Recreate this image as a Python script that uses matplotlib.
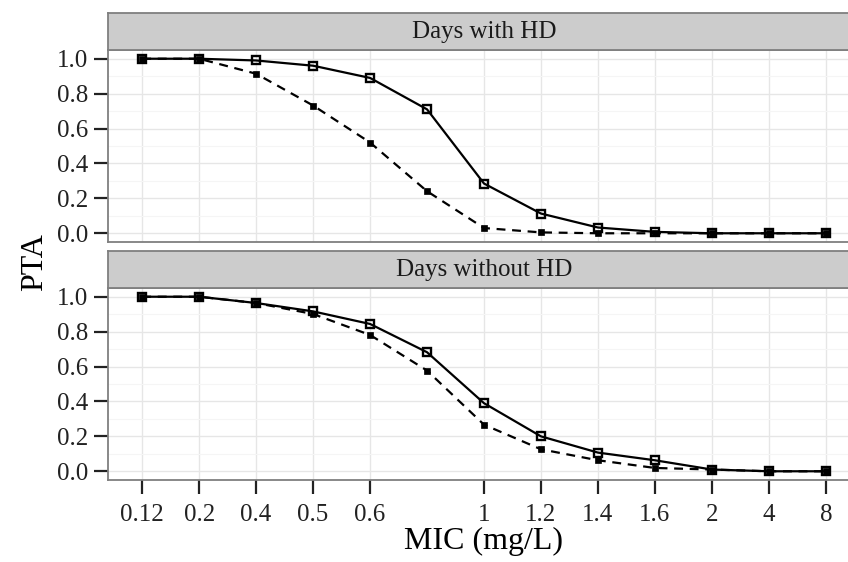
import matplotlib
matplotlib.use("Agg")
import matplotlib.pyplot as plt
from matplotlib.ticker import MultipleLocator

plt.rcParams["font.family"] = ["Liberation Serif", "DejaVu Serif"]

# MIC categories (0.8 is plotted but carries no tick label)
mic_levels = ["0.12", "0.2", "0.4", "0.5", "0.6", "0.8", "1", "1.2", "1.4", "1.6", "2", "4", "8"]
tick_levels = ["0.12", "0.2", "0.4", "0.5", "0.6", "1", "1.2", "1.4", "1.6", "2", "4", "8"]

facets = ["Days with HD", "Days without HD"]

# PTA per facet: solid line / open squares and dashed line / filled squares
pta_solid_hd = [1.0, 1.0, 0.99, 0.96, 0.89, 0.71, 0.285, 0.113, 0.033, 0.008, 0.0, 0.0, 0.0]
pta_dashed_hd = [1.0, 1.0, 0.914, 0.732, 0.52, 0.241, 0.03, 0.005, 0.0, 0.0, 0.0, 0.0, 0.0]
pta_solid_nohd = [1.0, 1.0, 0.964, 0.916, 0.844, 0.682, 0.39, 0.2, 0.107, 0.063, 0.01, 0.0, 0.0]
pta_dashed_nohd = [1.0, 1.0, 0.964, 0.901, 0.781, 0.577, 0.267, 0.126, 0.063, 0.019, 0.01, 0.0, 0.0]

series = [
    (pta_solid_hd, pta_dashed_hd),
    (pta_solid_nohd, pta_dashed_nohd),
]

W, H = 848, 562
fig = plt.figure(figsize=(W / 100, H / 100), dpi=100)

# panel boxes in pixels: (top of strip, top of panel, bottom of panel)
left_px, right_px = 108, 860
rows = [(13, 50, 242), (251, 288, 480)]

xpos = list(range(len(mic_levels)))
tick_pos = [mic_levels.index(t) for t in tick_levels]

for (strip_top, panel_top, panel_bot), title, (solid, dashed) in zip(rows, facets, series):
    ax = fig.add_axes([left_px / W, 1 - panel_bot / H,
                       (right_px - left_px) / W, (panel_bot - panel_top) / H])
    ax.set_xlim(-0.6, len(mic_levels) - 1 + 0.6)
    ax.set_ylim(-0.05, 1.05)

    ax.set_xticks(tick_pos)
    ax.yaxis.set_major_locator(MultipleLocator(0.2))
    ax.yaxis.set_minor_locator(MultipleLocator(0.1))
    ax.grid(True, which="major", color="#e6e6e6", linewidth=1.0)
    ax.grid(True, which="minor", axis="y", color="#f5f5f5", linewidth=0.8)
    ax.set_axisbelow(True)
    for sp in ax.spines.values():
        sp.set_color("#7f7f7f")
        sp.set_linewidth(1.3)

    ax.plot(xpos, dashed, color="black", linestyle=(0, (4, 3)), linewidth=1.6,
            marker="s", markersize=4.6, markerfacecolor="black",
            markeredgecolor="black", markeredgewidth=0.5, zorder=3)
    ax.plot(xpos, solid, color="black", linestyle="-", linewidth=1.6,
            marker="s", markersize=6, markerfacecolor="none",
            markeredgecolor="black", markeredgewidth=1.7, zorder=4)

    ax.set_yticks([0, 0.2, 0.4, 0.6, 0.8, 1.0])
    ax.set_yticklabels(["0.0", "0.2", "0.4", "0.6", "0.8", "1.0"])
    ax.tick_params(axis="y", which="major", length=10, width=1.6, color="#222222",
                   labelsize=18, labelcolor="#222222", pad=4)
    ax.tick_params(axis="y", which="minor", length=0)

    if panel_bot == rows[-1][2]:
        ax.set_xticklabels(tick_levels)
        ax.tick_params(axis="x", length=10, width=1.6, color="#222222",
                       labelsize=18, labelcolor="#222222", pad=7)
        ax.set_xlabel("MIC (mg/L)", fontsize=23, labelpad=1)
    else:
        ax.tick_params(axis="x", length=0, labelbottom=False)

    # facet strip
    sax = fig.add_axes([left_px / W, 1 - panel_top / H,
                        (right_px - left_px) / W, (panel_top - strip_top) / H])
    sax.set_facecolor("#cccccc")
    sax.set_xticks([])
    sax.set_yticks([])
    for sp in sax.spines.values():
        sp.set_color("#7f7f7f")
        sp.set_linewidth(1.3)
    sax.text(0.5, 0.48, title, transform=sax.transAxes, ha="center", va="center",
             fontsize=18, color="#1a1a1a")

fig.text(35 / W, 1 - 262 / H, "PTA", rotation=90, ha="center", va="center",
         fontsize=23)

fig.savefig("out.png", dpi=100)
